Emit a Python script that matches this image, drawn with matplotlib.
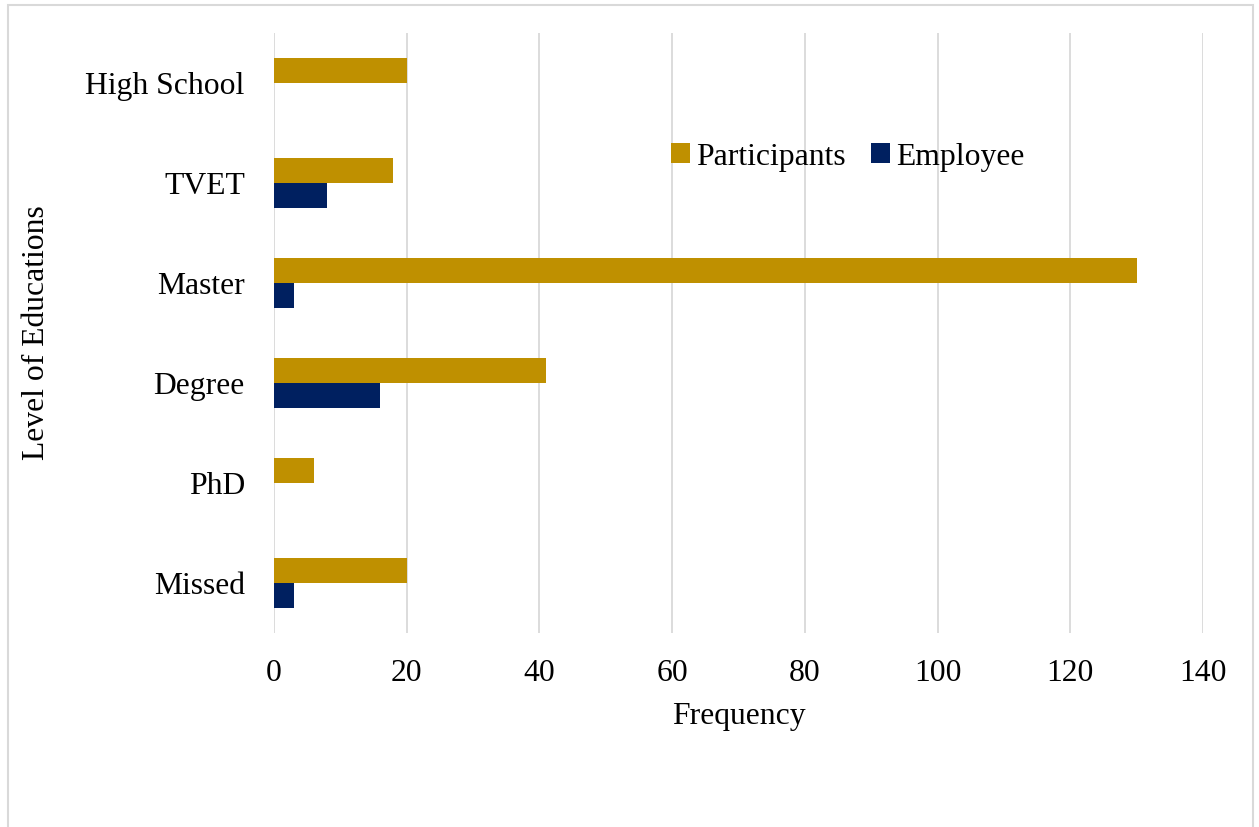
import matplotlib
matplotlib.use("Agg")
import matplotlib.pyplot as plt
from matplotlib.patches import Rectangle

# education levels, top to bottom as in the chart
levels = ["High School", "TVET", "Master", "Degree", "PhD", "Missed"]
participants = [20, 18, 130, 41, 6, 20]
employee = [0, 8, 3, 16, 0, 3]
xticks = [0, 20, 40, 60, 80, 100, 120, 140]

gold = "#BF9000"
navy = "#002060"

plt.rcParams["font.family"] = ["Liberation Serif", "DejaVu Serif"]

fig = plt.figure(figsize=(12.59, 8.27), dpi=100)
ax = fig.add_axes([274 / 1259, 1 - 633 / 827, (1203 - 274) / 1259, 600 / 827])

ypos = list(range(len(levels)))
h = 0.25
ax.barh([y - h / 2 for y in ypos], participants, height=h, color=gold,
        linewidth=0, label="Participants", zorder=3)
ax.barh([y + h / 2 for y in ypos], employee, height=h, color=navy,
        linewidth=0, label="Employee", zorder=3)

ax.set_ylim(len(levels) - 0.5, -0.5)
ax.set_xlim(0, 140)
ax.set_yticks(ypos)
ax.set_yticklabels(levels)
ax.set_xticks(xticks)
ax.tick_params(axis="both", length=0, labelsize=22.8)
ax.tick_params(axis="y", pad=21)
ax.tick_params(axis="x", pad=19)
ax.grid(axis="x", color="#d9d9d9", linewidth=1.3, zorder=0)
for s in ax.spines.values():
    s.set_visible(False)

ax.set_xlabel("Frequency", fontsize=22.8, labelpad=10)
ax.set_ylabel("Level of Educations", fontsize=22.8, labelpad=25)

fig.legend(loc="center", bbox_to_anchor=(848 / 1259, 1 - 157 / 827), ncol=2,
           frameon=False, fontsize=22.8, handlelength=0.6, handleheight=0.6,
           handletextpad=0.2, columnspacing=0.8)

# thin grey frame round the chart
fig.patches.append(Rectangle((8 / 1259, -0.01), (1253 - 8) / 1259, 1 - 5 / 827 + 0.01,
                             transform=fig.transFigure, fill=False,
                             edgecolor="#d9d9d9", linewidth=1.5))

fig.savefig("out.png", dpi=100)
